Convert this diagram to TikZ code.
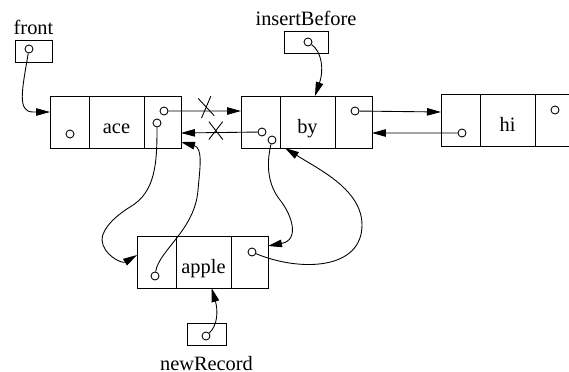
\documentclass[tikz,border=0pt]{standalone}
\usepackage{fontspec}
\setmainfont{Liberation Serif}
\usetikzlibrary{positioning,arrows.meta,shapes.misc}
\tikzset{
lists/.style={
    x=0.02cm,
    y=-0.02cm,
    line width=0.5pt,
    font=\fontsize{11.6}{14}\selectfont
},
cell/.style={
    draw,
    anchor=west,
    minimum height=1.04cm,
    inner sep=0pt,
    outer sep=0pt
},
leftcell/.style={
    cell,
    minimum width=0.78cm
},
datacell/.style={
    cell,
    minimum width=1.1cm,
    text height=0.5cm,
    text depth=0.02cm
},
rightcell/.style={
    cell,
    minimum width=0.74cm
},
varbox/.style={
    draw,
    inner sep=0pt,
    minimum height=0.44cm
},
ptr/.style={
    circle,
    draw,
    inner sep=0pt,
    minimum size=0.16cm
},
link/.style={
    -{Triangle[length=0.28cm,width=0.15cm]}
},
crossed/.style={
    cross out,
    draw,
    inner sep=0pt,
    minimum width=0.24cm,
    minimum height=0.38cm
}}

\begin{document}
\begin{tikzpicture}[lists]
\useasboundingbox (0,0) rectangle (569,372);

% the records
\node[leftcell]    (aceL)    at (50,122)    {};
\node[datacell]    (aceD)    [right=0pt of aceL]    {ace};
\node[rightcell]   (aceR)    [right=0pt of aceD]    {};
\node[leftcell]    (byL)     at (241,122)   {};
\node[datacell]    (byD)     [right=0pt of byL]     {by};
\node[rightcell]   (byR)     [right=0pt of byD]     {};
\node[leftcell]    (hiL)     at (441,120)   {};
\node[datacell]    (hiD)     [right=0pt of hiL]     {hi};
\node[rightcell]   (hiR)     [right=0pt of hiD]     {};
\node[leftcell]    (appL)    at (137,262)   {};
\node[datacell]    (appD)    [right=0pt of appL]    {apple};
\node[rightcell]   (appR)    [right=0pt of appD]    {};

% the pointer variables
\node[varbox, minimum width=0.74cm]    (front)    at (33.5,51.5)
    [label={[inner sep=0pt, label distance=0.1cm]above:front}]    {};
\node[varbox, minimum width=0.88cm]    (ins)      at (306,42.5)
    [label={[inner sep=0pt, label distance=0.1cm]above:insertBefore}]    {};
\node[varbox, minimum width=0.78cm]    (new)      at (206.5,334.5)
    [label={[inner sep=0pt, label distance=0.19cm]below:newRecord}]    {};

% the pointer fields
\node[ptr]    (frontP)    at (29,49)     {};
\node[ptr]    (insP)      at (308,42)    {};
\node[ptr]    (newP)      at (206,336)   {};
\node[ptr]    (aceBack)   at (70,134)    {};
\node[ptr]    (aceNext)   at (164,111)   {};
\node[ptr]    (acePrev)   at (157,123)   {};
\node[ptr]    (byOld)     at (262,132)   {};
\node[ptr]    (byNew)     at (272,140)   {};
\node[ptr]    (byNext)    at (355,111)   {};
\node[ptr]    (hiPrev)    at (462,133)   {};
\node[ptr]    (hiNext)    at (555,110)   {};
\node[ptr]    (appPrev)   at (155,276)   {};
\node[ptr]    (appNext)   at (252,252)   {};

% links
\draw[link]    (frontP) .. controls (22,90) and (17,112) .. (33,112)
    -- ([yshift=0.2cm]aceL.west);
\draw[link]    (aceNext) -- node[pos=0.53, crossed, rotate=10, yshift=0.08cm] {}
    ([yshift=0.22cm]byL.west);
\draw[link]    (byOld) -- node[pos=0.545, crossed, minimum width=0.26cm, minimum height=0.34cm, yshift=0.04cm] {}
    ([yshift=-0.22cm]aceR.east);
\draw[link]    (byNext) -- ([yshift=0.16cm]hiL.west);
\draw[link]    (hiPrev) -- ([yshift=-0.22cm]byR.east);
\draw[link]    (insP) .. controls (322,52) and (324,70) .. ([xshift=0.15cm]byD.north);
\draw[link]    (newP) .. controls (218,325) and (218,310) .. ([xshift=0.16cm]appD.south);
\draw[link]    (acePrev) .. controls (157,162) and (156,192) .. (130,207)
    .. controls (117,215) and (102,228) .. (102,240)
    .. controls (103,255) and (122,264) .. ([yshift=0.14cm]appL.west);
\draw[link]    (appPrev) .. controls (159,250) and (195,230) .. (198,190)
    .. controls (200,168) and (203,148) .. ([yshift=-0.4cm]aceR.east);
\draw[link]    (byNew) .. controls (266,165) and (268,185) .. (280,200)
    .. controls (292,215) and (300,240) .. ([yshift=0.32cm]appR.east);
\draw[link]    (appNext) .. controls (300,272) and (362,270) .. (362,225)
    .. controls (362,190) and (320,170) .. ([xshift=0.1cm]byD.south west);
\end{tikzpicture}
\end{document}
